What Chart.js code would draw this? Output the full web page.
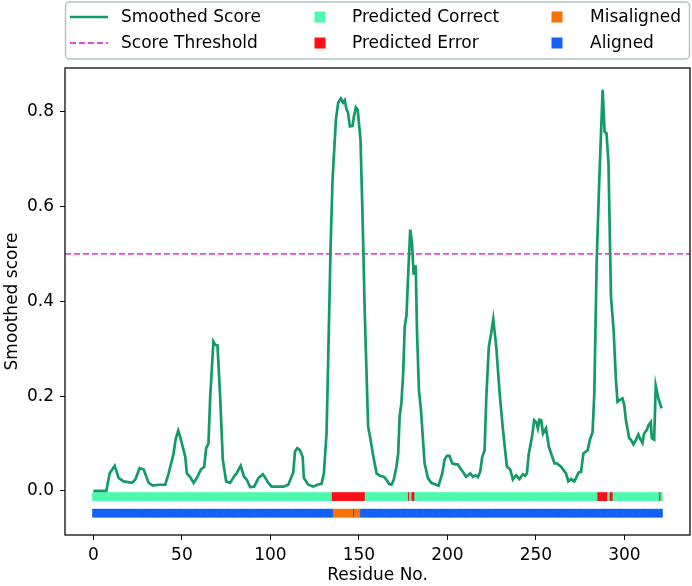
<!DOCTYPE html>
<html>
<head>
<meta charset="utf-8">
<script src="https://cdn.jsdelivr.net/npm/chart.js@4/dist/chart.umd.min.js"></script>
<style>
    html, body { margin: 0; padding: 0; background: #fff; }
    #contenedor { width: 692px; height: 586px; }
</style>
</head>
<body>
<div id="contenedor"><canvas id="grafico1"></canvas></div>
<script>
// puntuacion suavizada (residuo, valor)
const residuos = [
    0, 7.3, 9.2, 12.0, 14.3, 17.1, 21.8, 23.7, 26.1, 28.4, 31.2, 33.6, 36.8, 40.6, 42.5, 45.3, 46.4, 47.9, 49.0, 51.9,
    52.8, 54.7, 56.6, 58.4, 60.7, 62.6, 63.7, 65.0, 66.0, 67.8, 68.8, 70.1, 71.6, 73.1, 75.0, 77.2, 79.7, 80.9, 83.2, 85.1,
    86.6, 88.5, 90.8, 93.2, 95.7, 96.9, 98.8, 100.7, 103.5, 107.3, 110.1, 112.9, 113.9, 115.2, 116.7, 118.2, 118.9, 121.4, 124.2, 126.5,
    128.9, 130.2, 131.7, 132.6, 134.0, 135.1, 137.0, 138.3, 139.8, 141.1, 142.0, 143.0, 143.9, 144.9, 146.4, 147.2, 148.3, 149.3, 150.9, 152.0,
    153.3, 155.2, 156.5, 158.0, 160.0, 161.8, 164.0, 165.5, 167.0, 168.4, 169.7, 171.2, 172.2, 173.0, 174.0, 175.0, 175.9, 176.9, 177.7, 179.0,
    180.0, 180.9, 181.5, 182.1, 182.8, 183.9, 185.2, 187.1, 189.0, 190.9, 193.7, 195.0, 197.1, 198.4, 199.7, 201.2, 202.7, 204.6, 205.9, 207.2,
    208.8, 210.6, 212.9, 214.4, 215.9, 217.2, 218.5, 219.7, 221.0, 222.0, 223.4, 224.7, 225.9, 227.6, 229.5, 231.4, 233.6, 235.5, 237.0, 238.8,
    240.7, 242.6, 243.9, 244.9, 246.0, 247.8, 249.0, 250.2, 251.1, 252.0, 253.0, 254.0, 255.7, 257.3, 258.6, 260.5, 261.8, 264.2, 267.0, 268.3,
    269.9, 271.7, 274.2, 275.5, 276.8, 279.3, 280.5, 282.0, 283.0, 284.3, 285.8, 287.7, 288.8, 289.9, 291.0, 292.4, 293.9, 295.2, 296.1, 297.4,
    298.9, 299.9, 300.8, 302.7, 303.6, 305.1, 306.4, 307.9, 308.7, 310.2, 311.1, 312.5, 313.6, 314.9, 315.5, 316.8, 317.7, 319.2, 321.0
];
const puntuacion = [
    0.000, 0.000, 0.037, 0.053, 0.027, 0.020, 0.017, 0.024, 0.048, 0.045, 0.017, 0.011, 0.013, 0.013, 0.037, 0.079, 0.108, 0.127, 0.114, 0.072,
    0.037, 0.029, 0.017, 0.027, 0.045, 0.051, 0.090, 0.100, 0.199, 0.315, 0.308, 0.307, 0.199, 0.066, 0.020, 0.017, 0.032, 0.037, 0.053, 0.030,
    0.024, 0.008, 0.009, 0.027, 0.035, 0.029, 0.017, 0.009, 0.009, 0.009, 0.013, 0.039, 0.083, 0.090, 0.086, 0.072, 0.027, 0.013, 0.009, 0.013,
    0.015, 0.037, 0.121, 0.269, 0.515, 0.656, 0.783, 0.819, 0.828, 0.819, 0.824, 0.805, 0.797, 0.769, 0.770, 0.790, 0.809, 0.804, 0.741, 0.586,
    0.375, 0.136, 0.110, 0.075, 0.037, 0.032, 0.030, 0.024, 0.015, 0.013, 0.024, 0.051, 0.079, 0.157, 0.185, 0.248, 0.347, 0.371, 0.445, 0.551,
    0.523, 0.456, 0.473, 0.473, 0.339, 0.213, 0.164, 0.058, 0.027, 0.017, 0.013, 0.011, 0.037, 0.066, 0.074, 0.074, 0.058, 0.056, 0.056, 0.048,
    0.040, 0.030, 0.037, 0.030, 0.033, 0.029, 0.040, 0.072, 0.086, 0.199, 0.304, 0.332, 0.362, 0.304, 0.206, 0.128, 0.051, 0.045, 0.024, 0.033,
    0.025, 0.035, 0.032, 0.037, 0.079, 0.114, 0.149, 0.145, 0.132, 0.150, 0.149, 0.121, 0.132, 0.093, 0.079, 0.058, 0.058, 0.051, 0.037, 0.020,
    0.025, 0.020, 0.039, 0.040, 0.079, 0.086, 0.108, 0.124, 0.206, 0.480, 0.656, 0.846, 0.758, 0.754, 0.691, 0.410, 0.339, 0.234, 0.188, 0.192,
    0.195, 0.181, 0.150, 0.111, 0.108, 0.098, 0.107, 0.119, 0.111, 0.101, 0.121, 0.128, 0.138, 0.145, 0.111, 0.108, 0.222, 0.195, 0.174
];

const umbral = 0.5;
const totalResiduos = 322;
// rangos de residuos [inicio, fin]
const rangosError = [[135, 153], [178, 178], [180, 181], [285, 290], [292, 293], [320, 320]];
const rangosDesalineados = [[136, 146], [148, 150]];

const marcasX = [0, 50, 100, 150, 200, 250, 300];
const marcasY = [0, 0.2, 0.4, 0.6, 0.8];

// franjas (posicion en unidades del eje y)
const franjaPrediccion = [-0.0205, -0.0035];
const franjaAlineamiento = [-0.0555, -0.0385];

const colorLinea = '#139a66';
const colorUmbral = '#e64bd4';
const colorCorrecto = '#4cf9ad';
const colorError = '#ff0d16';
const colorDesalineado = '#f97306';
const colorAlineado = '#1560f6';

const enRangos = (i, rangos) => rangos.some(([a, b]) => i >= a && i <= b);
const todos = Array.from({ length: totalResiduos }, (_, i) => i);

const barras = (lista, franja) => lista.map(i => ({ x: i, y: franja }));

const tamLetra = 17;
Chart.defaults.font.family = "'DejaVu Sans', sans-serif";
Chart.defaults.font.size = tamLetra;
Chart.defaults.color = '#000';

const leyendaPlugin = {
    id: 'leyenda',
    afterDraw(chart) {
        const ctx = chart.ctx;
        const area = chart.chartArea;
        const ds = chart.data.datasets;
        ctx.save();

        // marco de la grafica
        ctx.strokeStyle = '#000';
        ctx.lineWidth = 1.25;
        ctx.strokeRect(area.left, area.top, area.right - area.left, area.bottom - area.top);

        // caja de la leyenda
        const x0 = area.left + 0.5, y0 = 2, w = area.right - area.left - 1, h = 57, r = 4;
        ctx.beginPath();
        ctx.moveTo(x0 + r, y0);
        ctx.arcTo(x0 + w, y0, x0 + w, y0 + h, r);
        ctx.arcTo(x0 + w, y0 + h, x0, y0 + h, r);
        ctx.arcTo(x0, y0 + h, x0, y0, r);
        ctx.arcTo(x0, y0, x0 + w, y0, r);
        ctx.closePath();
        ctx.fillStyle = 'rgba(255,255,255,0.85)';
        ctx.fill();
        ctx.strokeStyle = '#b3c4c4';
        ctx.lineWidth = 1.5;
        ctx.stroke();

        const filas = [17, 43];
        const columnas = [
            { marca: 89, texto: 121, items: [0, 1] },
            { marca: 320, texto: 352, items: [2, 3] },
            { marca: 557, texto: 590, items: [4, 5] }
        ];
        ctx.font = tamLetra + "px 'DejaVu Sans', sans-serif";
        ctx.textBaseline = 'middle';
        ctx.textAlign = 'left';
        columnas.forEach(col => {
            col.items.forEach((idx, fila) => {
                const d = ds[idx];
                const y = filas[fila];
                if (d.type === 'bar') {
                    ctx.fillStyle = d.backgroundColor;
                    ctx.fillRect(col.marca - 5.5, y - 5.5, 11, 11);
                } else {
                    ctx.strokeStyle = d.borderColor;
                    ctx.lineWidth = d.borderWidth;
                    ctx.setLineDash(d.borderDash || []);
                    ctx.beginPath();
                    ctx.moveTo(col.marca - 19, y);
                    ctx.lineTo(col.marca + 19, y);
                    ctx.stroke();
                    ctx.setLineDash([]);
                }
                ctx.fillStyle = '#000';
                ctx.fillText(d.label, col.texto, y + 1);
            });
        });
        ctx.restore();
    }
};

const opcionesBarra = { type: 'bar', grouped: false, barPercentage: 1, categoryPercentage: 1, borderWidth: 0 };

window.graficaPuntuacion = new Chart(document.getElementById('grafico1').getContext('2d'), {
    type: 'line',
    data: {
        datasets: [
            {
                label: 'Smoothed Score',
                data: residuos.map((x, i) => ({ x: x, y: puntuacion[i] })),
                borderColor: colorLinea,
                borderWidth: 2.7,
                pointRadius: 0,
                tension: 0
            },
            {
                label: 'Score Threshold',
                data: [{ x: -16.05, y: umbral }, { x: 337.05, y: umbral }],
                borderColor: colorUmbral,
                borderWidth: 1.8,
                borderDash: [6, 3],
                pointRadius: 0
            },
            {
                ...opcionesBarra,
                label: 'Predicted Correct',
                data: barras(todos.filter(i => !enRangos(i, rangosError)), franjaPrediccion),
                backgroundColor: colorCorrecto
            },
            {
                ...opcionesBarra,
                label: 'Predicted Error',
                data: barras(todos.filter(i => enRangos(i, rangosError)), franjaPrediccion),
                backgroundColor: colorError
            },
            {
                ...opcionesBarra,
                label: 'Misaligned',
                data: barras(todos.filter(i => enRangos(i, rangosDesalineados)), franjaAlineamiento),
                backgroundColor: colorDesalineado
            },
            {
                ...opcionesBarra,
                label: 'Aligned',
                data: barras(todos.filter(i => !enRangos(i, rangosDesalineados)), franjaAlineamiento),
                backgroundColor: colorAlineado
            }
        ]
    },
    options: {
        responsive: true,
        maintainAspectRatio: false,
        animation: false,
        layout: { padding: { top: 68, right: 2, left: 0, bottom: 0 } },
        plugins: { legend: { display: false }, tooltip: { enabled: false } },
        scales: {
            x: {
                type: 'linear',
                offset: false,
                min: -16.05,
                max: 337.05,
                afterBuildTicks: (scale) => { scale.ticks = marcasX.map(v => ({ value: v })); },
                afterFit: (scale) => { scale.height = 51; },
                ticks: { padding: 5, maxRotation: 0, callback: (v) => v },
                grid: { offset: false, drawOnChartArea: false, drawTicks: true, tickLength: 5, color: '#000', lineWidth: 1 },
                border: { display: false },
                title: { display: true, text: 'Residue No.', padding: { top: 0, bottom: 0 } }
            },
            y: {
                type: 'linear',
                min: -0.093,
                max: 0.892,
                afterBuildTicks: (scale) => { scale.ticks = marcasY.map(v => ({ value: v })); },
                afterFit: (scale) => { scale.width = 65; },
                ticks: { padding: 6, callback: (v) => v.toFixed(1) },
                grid: { drawOnChartArea: false, drawTicks: true, tickLength: 5, color: '#000', lineWidth: 1 },
                border: { display: false },
                title: { display: true, text: 'Smoothed score', padding: { top: 2, bottom: 2 } }
            }
        }
    },
    plugins: [leyendaPlugin]
});
</script>
</body>
</html>
